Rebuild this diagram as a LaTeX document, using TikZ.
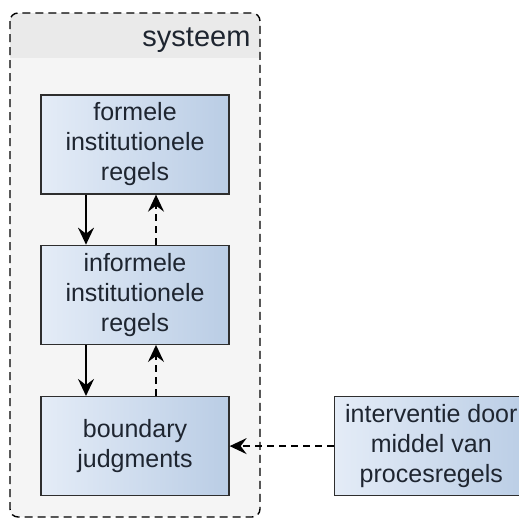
\documentclass[tikz,border=0pt]{standalone}
\usepackage{fontspec}
\setmainfont{Liberation Sans}
\usetikzlibrary{arrows.meta,positioning}
\definecolor{boxlight}{HTML}{E4ECF7}
\definecolor{boxdark}{HTML}{BACDE5}
\definecolor{boxline}{HTML}{2E2E2E}
\definecolor{bodyfill}{HTML}{F5F5F5}
\definecolor{headfill}{HTML}{EAEAEA}
\definecolor{txt}{HTML}{1E2530}

\begin{document}
\begin{tikzpicture}[x=1pt,y=-1pt,
          regel/.style  = {draw          = boxline,
                           line width    = 1.3pt,
                           left color    = boxlight,
                           right color   = boxdark,
                           minimum width = 188pt,
                           minimum height= 99pt,
                           inner sep     = 0pt,
                           align         = center,
                           text          = txt,
                           font          = \fontsize{25}{30}\selectfont},
          flow/.style   = {-{Stealth[length=17pt,width=16pt,inset=6pt]},
                           line width = 1.8pt},
          terug/.style  = {flow,
                           dash pattern = on 7pt off 5pt},
          kader/.style  = {line width   = 1.4pt,
                           dash pattern = on 8pt off 5pt,
                           rounded corners = 8pt}]
  \clip (0,0) rectangle (519,520);
  \useasboundingbox (0,0) rectangle (519,520);

  % systeem container
  \fill[bodyfill, rounded corners=8pt] (10,13) rectangle (260,517);
  \begin{scope}
    \clip (0,13) rectangle (270,57);
    \fill[headfill, rounded corners=8pt] (10,13) rectangle (260,80);
  \end{scope}
  \draw[kader] (10,13) rectangle (260,517);
  \node[anchor = base east, text = txt,
        font = \fontsize{29}{30}\selectfont] (titel) at (254,46) {systeem};

  % regels
  \node[regel] (formeel) at (135,144.5) {formele\\institutionele\\regels};
  \node[regel, below=50pt of formeel] (informeel) {informele\\institutionele\\regels};
  \node[regel, below=51pt of informeel] (grens) {boundary\\judgments};
  \node[regel, right=104pt of grens, minimum width=194pt] (interventie)
       {interventie door\\middel van\\procesregels};

  \draw[flow]  ([xshift=-49pt]formeel.south)   -- ([xshift=-49pt]informeel.north);
  \draw[terug] ([xshift=21pt]informeel.north)  -- ([xshift=21pt]formeel.south);
  \draw[flow]  ([xshift=-49pt]informeel.south) -- ([xshift=-49pt]grens.north);
  \draw[terug] ([xshift=21pt]grens.north)      -- ([xshift=21pt]informeel.south);
  \draw[terug] (interventie.west) -- (grens.east);
\end{tikzpicture}
\end{document}
